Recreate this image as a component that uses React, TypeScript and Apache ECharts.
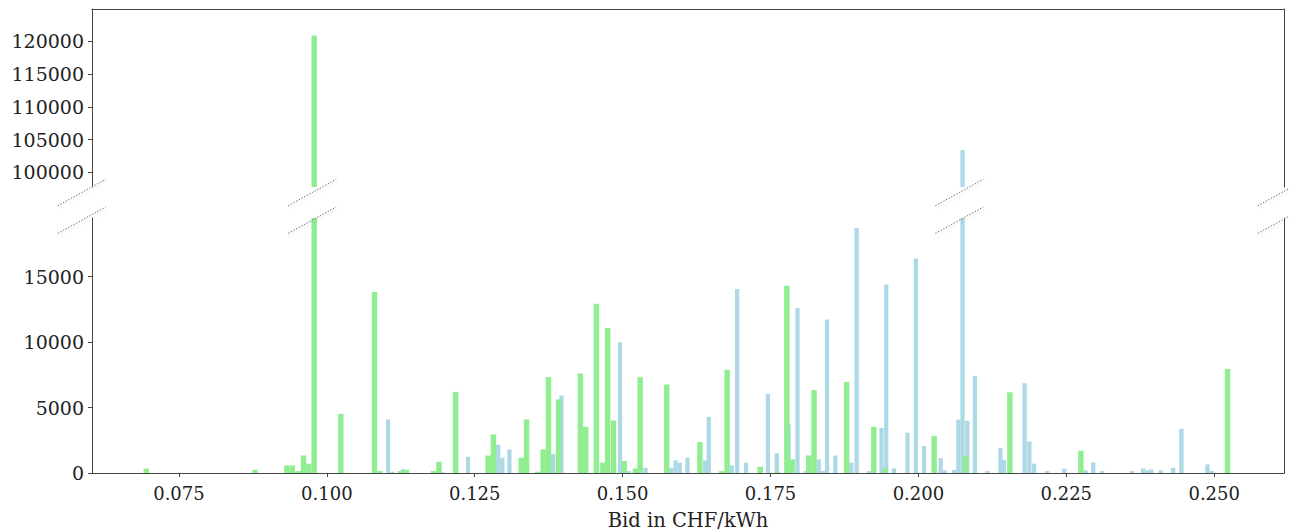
import React, { useEffect, useRef } from "react";
import * as echarts from "echarts";

const X_MIN = 0.0603;
const X_MAX = 0.2618;
const xTicks = [0.075, 0.1, 0.125, 0.15, 0.175, 0.2, 0.225, 0.25];
const topTicks = [100000, 105000, 110000, 115000, 120000];
const bottomTicks = [0, 5000, 10000, 15000];
const TOP_MIN = 97750;
const TOP_MAX = 124930;
const BOTTOM_MAX = 19475;

const GREEN_W = 0.00092;
const BLUE_W = 0.00072;

const greenEdges = [
  0.069, 0.0874, 0.0928, 0.0937, 0.0947, 0.0956, 0.0965, 0.0974, 0.1019, 0.1076,
  0.1085, 0.112, 0.113, 0.1176, 0.1185, 0.1213, 0.1268, 0.1277, 0.1324, 0.1333,
  0.1352, 0.1361, 0.137, 0.1387, 0.1424, 0.1433, 0.1451, 0.1462, 0.147, 0.148,
  0.1498, 0.1517, 0.1525, 0.157, 0.1626, 0.1663, 0.1672, 0.1728, 0.1757, 0.1773,
  0.1782, 0.181, 0.1819, 0.1874, 0.192, 0.1939, 0.2022, 0.2075, 0.215, 0.227,
  0.2518,
];
const greenCounts = [
  330, 250, 580, 580, 150, 1340, 710, 120900, 4520, 13830,
  150, 150, 250, 150, 860, 6200, 1340, 2950, 1170, 4090,
  100, 1800, 7320, 5620, 7600, 3530, 12920, 790, 11080, 4010,
  915, 350, 7320, 6760, 2360, 150, 7880, 480, 100, 14310,
  1040, 1340, 6330, 6960, 3530, 350, 2840, 1320, 6170, 1700,
  7950,
];

const blueEdges = [
  0.11, 0.1107, 0.1125, 0.1191, 0.1235, 0.1286, 0.1293, 0.1305, 0.1379, 0.1393,
  0.1492, 0.1507, 0.1535, 0.1579, 0.1586, 0.1593, 0.1606, 0.1636, 0.1642, 0.1681,
  0.169, 0.1705, 0.1742, 0.1757, 0.1777, 0.1792, 0.1806, 0.1828, 0.1835, 0.1842,
  0.1856, 0.1883, 0.1892, 0.1913, 0.1934, 0.1942, 0.1955, 0.1978, 0.1992, 0.2006,
  0.2034, 0.2041, 0.2057, 0.2064, 0.2071, 0.2079, 0.2092, 0.2113, 0.2135, 0.2141,
  0.2176, 0.2184, 0.2192, 0.2214, 0.2243, 0.2279, 0.2292, 0.2307, 0.2358, 0.2376,
  0.2383, 0.239, 0.2406, 0.2427, 0.2441, 0.2485, 0.2492,
];
const blueCounts = [
  4090, 100, 300, 80, 1240, 2160, 1170, 1800, 1470, 5920,
  9990, 150, 400, 400, 960, 790, 1170, 960, 4290, 580,
  14060, 790, 6050, 1500, 3700, 12610, 150, 1040, 150, 11720,
  1340, 790, 18710, 150, 3450, 14390, 350, 3080, 16380, 2060,
  1140, 200, 230, 4070, 103400, 3990, 7420, 150, 1900, 1010,
  6860, 2410, 710, 150, 330, 200, 810, 150, 150, 350,
  200, 270, 200, 400, 3380, 660, 150,
];

const GREEN = "#90EE90";
const BLUE = "#ADD8E6";
const FONT = "DejaVu Serif";
const SPINE = "#444";

function histSeries(edges: number[], counts: number[], w: number, color: string, idx: number, name: string) {
  return {
    type: "custom",
    name,
    xAxisIndex: idx,
    yAxisIndex: idx === 0 ? 0 : 2,
    data: edges.map((e, i) => [e, w, counts[i]]),
    renderItem: (params: any, api: any) => {
      const x0 = api.value(0);
      const ww = api.value(1);
      const v = api.value(2);
      const p0 = api.coord([x0, v]);
      const p1 = api.coord([x0 + ww, 0]);
      const cs = params.coordSys;
      const rect = echarts.graphic.clipRectByRect(
        { x: p0[0], y: p0[1], width: p1[0] - p0[0], height: p1[1] - p0[1] },
        { x: cs.x, y: cs.y, width: cs.width, height: cs.height }
      );
      if (!rect) return null;
      return { type: "rect", shape: rect, style: { fill: color } };
    },
  };
}

function breakMarks(x: number) {
  const mk = (y: number) => ({
    type: "line",
    shape: { x1: x, y1: y + 26.4, x2: x + 48, y2: y },
    style: {
      stroke: "#777",
      lineWidth: 1,
      lineDash: [1.5, 1.5],
      shadowColor: "rgba(0,0,0,0.18)",
      shadowBlur: 3,
      shadowOffsetX: 1,
      shadowOffsetY: 2,
    },
    z: 100,
  });
  return [mk(179.3), mk(207)];
}

const plain = (v: number) => String(Math.round(v));

export default function App() {
  const ref = useRef<HTMLDivElement>(null);
  useEffect(() => {
    if (!ref.current) return;
    const chart = echarts.init(ref.current, undefined, { renderer: "svg" });
    const left = 92;
    const width = 1192;
    chart.setOption({
      animation: false,
      backgroundColor: "#fff",
      grid: [
        { left, width, top: 9, height: 178 },
        { left, width, top: 218, height: 255.3 },
      ],
      xAxis: [
        {
          type: "value",
          gridIndex: 0,
          min: X_MIN,
          max: X_MAX,
          position: "top",
          axisLine: { show: true, lineStyle: { color: SPINE, width: 1 } },
          axisTick: { show: false },
          axisLabel: { show: false },
          splitLine: { show: false },
        },
        {
          type: "value",
          gridIndex: 1,
          min: X_MIN,
          max: X_MAX,
          position: "bottom",
          name: "Bid in CHF/kWh",
          nameLocation: "middle",
          nameGap: 37,
          nameTextStyle: { fontFamily: FONT, fontSize: 19.5, color: "#222" },
          axisLine: { show: true, onZero: false, lineStyle: { color: SPINE, width: 1 } },
          axisTick: { show: true, customValues: xTicks, length: 4, lineStyle: { color: SPINE } },
          axisLabel: {
            show: true,
            customValues: xTicks,
            margin: 11,
            fontFamily: FONT,
            fontSize: 18,
            color: "#222",
            formatter: (v: number) => v.toFixed(3),
          },
          splitLine: { show: false },
        },
      ],
      yAxis: [
        {
          type: "value",
          gridIndex: 0,
          min: TOP_MIN,
          max: TOP_MAX,
          position: "left",
          axisLine: { show: true, lineStyle: { color: SPINE, width: 1 } },
          axisTick: { show: true, customValues: topTicks, length: 4, lineStyle: { color: SPINE } },
          axisLabel: {
            show: true,
            customValues: topTicks,
            margin: 8,
            fontFamily: FONT,
            fontSize: 19,
            color: "#222",
            formatter: plain,
          },
          splitLine: { show: false },
        },
        {
          type: "value",
          gridIndex: 0,
          min: TOP_MIN,
          max: TOP_MAX,
          position: "right",
          axisLine: { show: true, lineStyle: { color: SPINE, width: 1 } },
          axisTick: { show: false },
          axisLabel: { show: false },
          splitLine: { show: false },
        },
        {
          type: "value",
          gridIndex: 1,
          min: 0,
          max: BOTTOM_MAX,
          position: "left",
          axisLine: { show: true, lineStyle: { color: SPINE, width: 1 } },
          axisTick: { show: true, customValues: bottomTicks, length: 4, lineStyle: { color: SPINE } },
          axisLabel: {
            show: true,
            customValues: bottomTicks,
            margin: 8,
            fontFamily: FONT,
            fontSize: 19,
            color: "#222",
            formatter: plain,
          },
          splitLine: { show: false },
        },
        {
          type: "value",
          gridIndex: 1,
          min: 0,
          max: BOTTOM_MAX,
          position: "right",
          axisLine: { show: true, lineStyle: { color: SPINE, width: 1 } },
          axisTick: { show: false },
          axisLabel: { show: false },
          splitLine: { show: false },
        },
      ],
      series: [
        histSeries(blueEdges, blueCounts, BLUE_W, BLUE, 0, "blue-top"),
        histSeries(greenEdges, greenCounts, GREEN_W, GREEN, 0, "green-top"),
        histSeries(blueEdges, blueCounts, BLUE_W, BLUE, 1, "blue-bottom"),
        histSeries(greenEdges, greenCounts, GREEN_W, GREEN, 1, "green-bottom"),
      ],
      graphic: [
        ...breakMarks(57.7),
        ...breakMarks(288.2),
        ...breakMarks(935.3),
        ...breakMarks(1257.7),
      ],
    });
    return () => chart.dispose();
  }, []);
  return (
    <div
      ref={ref}
      style={{ position: "fixed", left: 0, top: 0, width: 1289, height: 531 }}
    />
  );
}
